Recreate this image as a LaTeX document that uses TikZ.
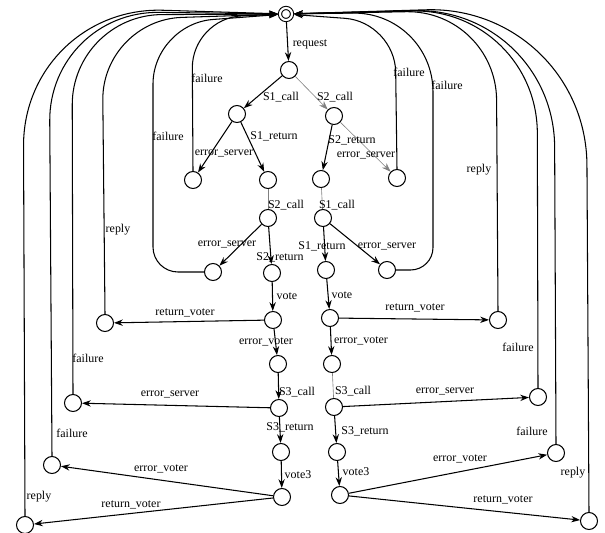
\documentclass[tikz,border=0pt]{standalone}
\usepackage{fontspec}
\setmainfont{Liberation Serif}
\usetikzlibrary{arrows.meta}

\tikzset{
  state/.style={circle, draw=black, fill=white, minimum size=0.34cm, inner sep=0pt, line width=0.6pt},
  start/.style={state, minimum size=0.24cm, double, double distance=1.2pt, outer sep=1.2pt},
  lbl/.style={font=\fontsize{6.8}{8}\selectfont, inner sep=0pt},
  edge/.style={-{Stealth[length=5pt,width=3.6pt]}, line width=0.6pt},
  faint/.style={line width=0.35pt, draw=gray},
}

\begin{document}
\begin{tikzpicture}[x=0.02cm, y=-0.02cm]
\useasboundingbox (0,0) rectangle (605,533);

\node[start] (init) at (286,14) {};
\node[state] (req) at (289,70) {};
\node[state] (s1c) at (237,114) {};
\node[state] (s2c) at (334,116) {};
\node[state] (errA) at (193,180) {};
\node[state] (s1r) at (268,180) {};
\node[state] (s2r) at (321,179) {};
\node[state] (errB) at (397,178) {};
\node[state] (s2cL) at (268,218) {};
\node[state] (s1cR) at (323,218) {};
\node[state] (errE) at (213,272) {};
\node[state] (s2rL) at (272,273) {};
\node[state] (s1rR) at (326,270) {};
\node[state] (errF) at (387,270) {};
\node[state] (voteL) at (273,320) {};
\node[state] (voteR) at (330,318) {};
\node[state] (retL) at (105,323) {};
\node[state] (retR) at (498,320) {};
\node[state] (evL) at (278,364) {};
\node[state] (evR) at (332,364) {};
\node[state] (s3cL) at (279,408) {};
\node[state] (s3cR) at (334,407) {};
\node[state] (esL) at (73,403) {};
\node[state] (esR) at (538,397) {};
\node[state] (s3rL) at (281,452) {};
\node[state] (s3rR) at (337,452) {};
\node[state] (v3L) at (282,497) {};
\node[state] (v3R) at (340,495) {};
\node[state] (evbL) at (52,465) {};
\node[state] (evbR) at (556,453) {};
\node[state] (rvbL) at (25,525) {};
\node[state] (rvbR) at (589,521) {};

% forward transitions
\draw[edge] (init) -- (req);
\draw[edge] (req) -- (s1c);
\draw[edge, faint] (req) -- (s2c);
\draw[edge] (s1c) -- (errA);
\draw[edge] (s1c) -- (s1r);
\draw[edge] (s2c) -- (s2r);
\draw[edge, faint] (s2c) -- (errB);
\draw[faint] (s1r) -- (s2cL);
\draw[faint] (s2r) -- (s1cR);
\draw[edge] (s2cL) -- (errE);
\draw[edge] (s2cL) -- (s2rL);
\draw[edge] (s1cR) -- (s1rR);
\draw[edge] (s1cR) -- (errF);
\draw[edge] (s2rL) -- (voteL);
\draw[edge] (s1rR) -- (voteR);
\draw[edge] (voteL) -- (retL);
\draw[edge] (voteR) -- (retR);
\draw[edge] (voteL) -- (evL);
\draw[edge] (voteR) -- (evR);
\draw[edge] (evL) -- (s3cL);
\draw[faint] (evR) -- (s3cR);
\draw[edge] (s3cL) -- (esL);
\draw[edge] (s3cR) -- (esR);
\draw[edge] (s3cL) -- (s3rL);
\draw[edge] (s3cR) -- (s3rR);
\draw[edge] (s3rL) -- (v3L);
\draw[edge] (s3rR) -- (v3R);
\draw[edge] (v3L) -- (evbL);
\draw[edge] (v3L) -- (rvbL);
\draw[edge] (v3R) -- (evbR);
\draw[edge] (v3R) -- (rvbR);

% back to the initial state, left side
\draw[edge, rounded corners=2.8cm] (rvbL.north) -- (23,6) -- (init);
\draw[edge, rounded corners=2.2cm] (evbL.north) -- (49,11) -- (init);
\draw[edge, rounded corners=1.8cm] (esL.north) -- (72,15) -- (init);
\draw[edge, rounded corners=1.6cm] (retL.north) -- (102,20) -- (init);
\draw[edge] (errE.west) [rounded corners=0.5cm] -- (153,272) [rounded corners=1.2cm] -- (153,24) -- (init);
\draw[edge, rounded corners=1cm] (errA.north) -- (192,18) -- (init);
% right side
\draw[edge, rounded corners=1cm] (errB.north) -- (395,22) -- (init);
\draw[edge] (errF.east) [rounded corners=0.45cm] -- (433,270) [rounded corners=1.6cm] -- (433,12) -- (init);
\draw[edge, rounded corners=1.8cm] (retR.north) -- (496,10) -- (init);
\draw[edge, rounded corners=2.5cm] (esR.north) -- (537,8) -- (init);
\draw[edge, rounded corners=2.8cm] (evbR.north) -- (554,7) -- (init);
\draw[edge, rounded corners=3.2cm] (rvbR.north) -- (586,5) -- (init);

% labels
\node[lbl] at (310,44) {request};
\node[lbl] at (281,97) {S1\_call};
\node[lbl] at (335,97) {S2\_call};
\node[lbl] at (207,78) {failure};
\node[lbl] at (168,136) {failure};
\node[lbl] at (409,72) {failure};
\node[lbl] at (447,85) {failure};
\node[lbl] at (274,136) {S1\_return};
\node[lbl] at (224,153) {error\_server};
\node[lbl] at (352,140) {S2\_return};
\node[lbl] at (366,155) {error\_server};
\node[lbl] at (286,205) {S2\_call};
\node[lbl] at (337,205) {S1\_call};
\node[lbl] at (118,230) {reply};
\node[lbl] at (479,170) {reply};
\node[lbl] at (227,244) {error\_server};
\node[lbl] at (280,257) {S2\_return};
\node[lbl] at (322,246) {S1\_return};
\node[lbl] at (387,246) {error\_server};
\node[lbl] at (287,296) {vote};
\node[lbl] at (342,295) {vote};
\node[lbl] at (185,313) {return\_voter};
\node[lbl] at (415,308) {return\_voter};
\node[lbl] at (266,342) {error\_voter};
\node[lbl] at (361,341) {error\_voter};
\node[lbl] at (88,358) {failure};
\node[lbl] at (518,347) {failure};
\node[lbl] at (297,392) {S3\_call};
\node[lbl] at (353,391) {S3\_call};
\node[lbl] at (170,394) {error\_server};
\node[lbl] at (445,391) {error\_server};
\node[lbl] at (290,427) {S3\_return};
\node[lbl] at (365,431) {S3\_return};
\node[lbl] at (72,433) {failure};
\node[lbl] at (532,431) {failure};
\node[lbl] at (161,469) {error\_voter};
\node[lbl] at (460,459) {error\_voter};
\node[lbl] at (298,475) {vote3};
\node[lbl] at (356,472) {vote3};
\node[lbl] at (39,497) {reply};
\node[lbl] at (573,473) {reply};
\node[lbl] at (131,505) {return\_voter};
\node[lbl] at (503,500) {return\_voter};
\end{tikzpicture}
\end{document}
